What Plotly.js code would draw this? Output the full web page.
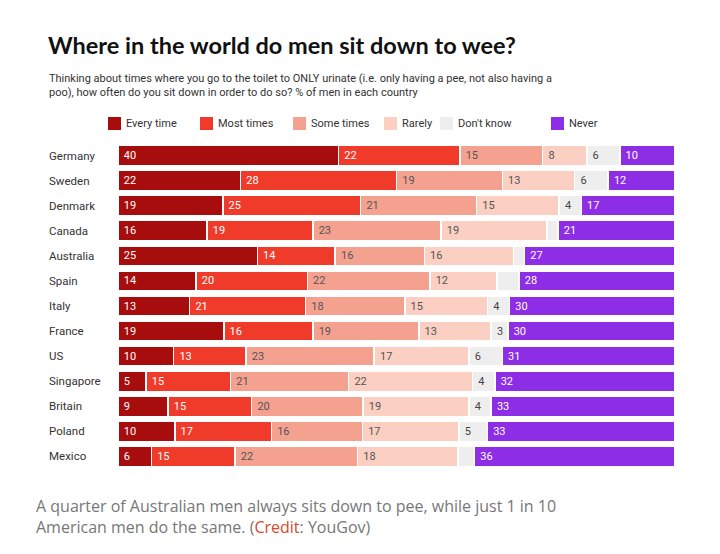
<!DOCTYPE html>
<html>
<head>
<meta charset="utf-8">
<script src="https://cdn.plot.ly/plotly-3.0.1.min.js"></script>
<style>body{margin:0;background:#fff}</style>
</head>
<body>
<div id="chart" style="width:720px;height:554px"></div>
<script>
const countries = ['Germany','Sweden','Denmark','Canada','Australia','Spain','Italy','France','US','Singapore','Britain','Poland','Mexico'];
const everyTime = [40,22,19,16,25,14,13,19,10,5,9,10,6];
const mostTimes = [22,28,25,19,14,20,21,16,13,15,15,17,15];
const someTimes = [15,19,21,23,16,22,18,19,23,21,20,16,22];
const rarely    = [8,13,15,19,16,12,15,13,17,22,19,17,18];
const dontKnow  = [6,6,4,2,2,4,4,3,6,4,4,5,3];
const dkLabels  = ['6','6','4','','','','4','3','6','4','4','5',''];
const never     = [10,12,17,21,27,28,30,30,31,32,33,33,36];

const series = [
    {name: 'Every time', y: everyTime, color: '#a80d0d', font: '#ffffff', lx: 108},
    {name: 'Most times', y: mostTimes, color: '#f03b2b', font: '#ffffff', lx: 200},
    {name: 'Some times', y: someTimes, color: '#f5a190', font: '#555555', lx: 293},
    {name: 'Rarely', y: rarely, color: '#fbcfc2', font: '#555555', lx: 384},
    {name: "Don't know", y: dontKnow, color: '#eeeeee', font: '#444444', text: dkLabels, lx: 440},
    {name: 'Never', y: never, color: '#8d2ee6', font: '#ffffff', lx: 551}
];

// pixel -> paper helpers (plot area 118..675 x, 143..469 y)
const px = x => (x - 118) / 557;
const py = y => (469 - y) / 326;

let data = series.map(s => ({
    type: 'bar',
    orientation: 'h',
    name: s.name,
    y: countries,
    x: s.y,
    text: (s.text || s.y.map(String)).map(t => t ? ' ' + t : ''),
    textposition: 'inside',
    insidetextanchor: 'start',
    textangle: 0,
    constraintext: 'none',
    textfont: {size: 11, color: s.font, family: 'Roboto, sans-serif'},
    marker: {color: s.color, line: {color: '#ffffff', width: 1.5}},
    hoverinfo: 'name+x'
}));

let annotations = [
    {text: '<b>Where in the world do men sit down to wee?</b>', x: px(46), y: py(45),
     xanchor: 'left', yanchor: 'middle',
     font: {size: 23.5, color: '#111', family: 'Lato, sans-serif'}},
    {text: 'Thinking about times where you go to the toilet to ONLY urinate (i.e. only having a pee, not also having a<br>poo), how often do you sit down in order to do so? % of men in each country',
     x: px(47), y: py(86), xanchor: 'left', yanchor: 'middle', align: 'left',
     font: {size: 11, color: '#333'}},
    {text: 'A quarter of Australian men always sits down to pee, while just 1 in 10<br>American men do the same. (<span style="color:#d9472b">Credit</span>: YouGov)',
     x: px(34), y: py(516), xanchor: 'left', yanchor: 'middle', align: 'left',
     font: {size: 16, color: '#777', family: 'Open Sans, sans-serif'}}
];
let shapes = [];

countries.forEach(c => annotations.push({
    text: c, x: px(47), y: c, yref: 'y', xanchor: 'left', yanchor: 'middle',
    font: {size: 11.5, color: '#333'}
}));

series.forEach(s => {
    shapes.push({type: 'rect', xref: 'paper', yref: 'paper', x0: px(s.lx), x1: px(s.lx + 13),
                 y0: py(130), y1: py(117), fillcolor: s.color, line: {width: 0}});
    annotations.push({text: s.name, x: px(s.lx + 16), y: py(123.5), xanchor: 'left', yanchor: 'middle',
                      font: {size: 11, color: '#333'}});
});

annotations.forEach(a => {
    a.showarrow = false;
    a.xref = 'paper';
    if (!a.yref) a.yref = 'paper';
});

let layout = {
    barmode: 'stack',
    barnorm: 'percent',
    bargap: 0.2,
    width: 720,
    height: 554,
    paper_bgcolor: '#ffffff',
    plot_bgcolor: '#ffffff',
    font: {family: 'Roboto, sans-serif', color: '#222'},
    margin: {l: 118, r: 45, t: 143, b: 85},
    xaxis: {range: [0, 100], visible: false, fixedrange: true},
    yaxis: {autorange: 'reversed', showgrid: false, showticklabels: false, ticks: ''},
    showlegend: false,
    annotations: annotations,
    shapes: shapes
};

Plotly.newPlot('chart', data, layout, {displayModeBar: false});
</script>
</body>
</html>
